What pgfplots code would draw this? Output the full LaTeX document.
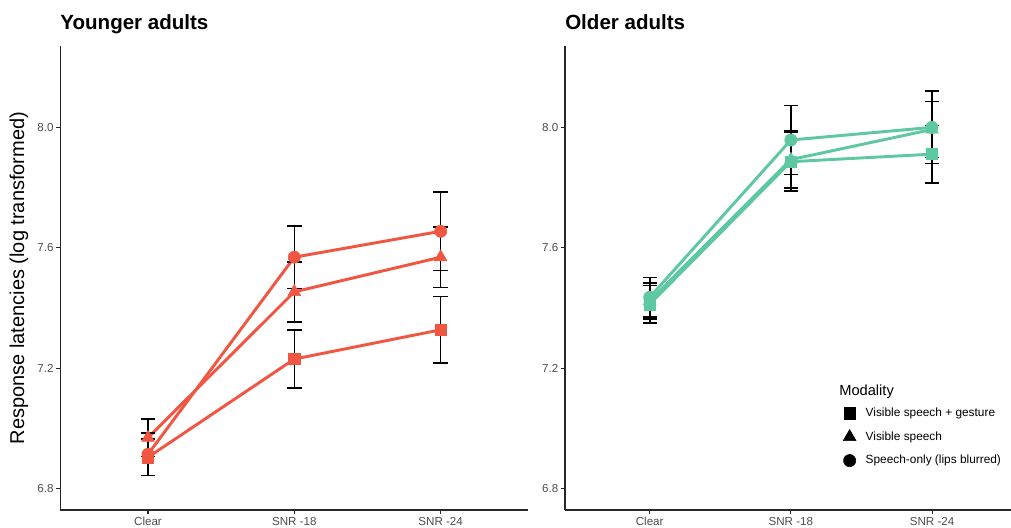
\documentclass[border=0pt]{standalone}
\usepackage{fontspec}
\setmainfont{Liberation Sans}
\usepackage{pgfplots}
\pgfplotsset{compat=1.18}
\usepackage{pgfplotstable}

\definecolor{youngred}{RGB}{240,86,66}
\definecolor{oldgreen}{RGB}{94,200,160}
\definecolor{tickgray}{RGB}{77,77,77}
\definecolor{axisgray}{RGB}{40,40,40}

% Younger adults
\pgfplotstableread{
x y e
1 6.905 0.060
2 7.231 0.097
3 7.328 0.110
}\YSq
\pgfplotstableread{
x y e
1 6.970 0.062
2 7.454 0.100
3 7.569 0.101
}\YTri
\pgfplotstableread{
x y e
1 6.915 0.070
2 7.569 0.104
3 7.655 0.130
}\YCir
% Older adults
\pgfplotstableread{
x y e
1 7.413 0.062
2 7.886 0.098
3 7.911 0.095
}\OSq
\pgfplotstableread{
x y e
1 7.424 0.060
2 7.893 0.095
3 7.993 0.093
}\OTri
\pgfplotstableread{
x y e
1 7.436 0.065
2 7.958 0.115
3 8.000 0.120
}\OCir

\pgfplotsset{
  panel/.style={
    scale only axis,
    height=348pt,
    xmin=0.4, xmax=3.6, ymin=6.73, ymax=8.27,
    axis x line*=bottom, axis y line*=left,
    axis line style={-, line width=0.8pt, color=axisgray},
    xtick={1,2,3}, xticklabels={Clear, SNR -18, SNR -24},
    ytick={6.8,7.2,7.6,8.0},
    tick align=outside, major tick length=3pt,
    tick style={line width=0.8pt, color=axisgray},
    ticklabel style={font=\fontsize{8.7}{10}\selectfont, color=tickgray},
    xticklabel style={yshift=1pt},
    yticklabel style={xshift=1.5pt, /pgf/number format/.cd, fixed, fixed zerofill, precision=1},
    /pgf/number format/assume math mode=true,
    title style={at={(axis description cs:0,1)}, anchor=base west, yshift=6pt,
                 inner sep=0pt, font=\bfseries\fontsize{15.4}{18}\selectfont},
    clip=false,
  },
  ebar/.style={draw=none, mark=none, forget plot,
    error bars/.cd, y dir=both, y explicit,
    error bar style={draw=black, line width=1.2pt},
    error mark options={draw=black, line width=1.2pt, mark size=5.4pt, rotate=90}},
  ln/.style={mark=none, line width=2.2pt, forget plot},
}

\begin{document}
\begin{tikzpicture}
\useasboundingbox (0,0) rectangle (758.25pt,396pt);

\begin{axis}[panel, at={(45.15pt,13.5pt)}, anchor=south west, width=351.2pt,
  title={Younger adults},
  ylabel={Response latencies (log transformed)},
  ylabel style={at={(axis description cs:-0.088,0.5)}, anchor=center,
                font=\fontsize{15}{18}\selectfont},
]
\addplot[ln, youngred] table[x=x,y=y]{\YSq};
\addplot[ln, youngred] table[x=x,y=y]{\YTri};
\addplot[ln, youngred] table[x=x,y=y]{\YCir};
\addplot[ebar] table[x=x,y=y,y error=e]{\YSq};
\addplot[ebar] table[x=x,y=y,y error=e]{\YTri};
\addplot[ebar] table[x=x,y=y,y error=e]{\YCir};
\addplot[only marks, forget plot, mark=square*, mark size=4.2pt, youngred] table[x=x,y=y]{\YSq};
\addplot[only marks, forget plot, mark=triangle*, mark size=5.5pt, youngred] table[x=x,y=y]{\YTri};
\addplot[only marks, forget plot, mark=*, mark size=4.6pt, youngred] table[x=x,y=y]{\YCir};
\end{axis}

\begin{axis}[panel, at={(423.75pt,13.5pt)}, anchor=south west, width=338.8pt,
  title={Older adults},
  legend style={at={(axis description cs:0.6066,0.232)}, anchor=north west,
    draw=none, fill=none, font=\fontsize{8.9}{10}\selectfont,
    legend cell align=left, row sep=5.8pt, column sep=5.3pt},
]
\addplot[ln, oldgreen] table[x=x,y=y]{\OSq};
\addplot[ln, oldgreen] table[x=x,y=y]{\OTri};
\addplot[ln, oldgreen] table[x=x,y=y]{\OCir};
\addplot[ebar] table[x=x,y=y,y error=e]{\OSq};
\addplot[ebar] table[x=x,y=y,y error=e]{\OTri};
\addplot[ebar] table[x=x,y=y,y error=e]{\OCir};
\addplot[only marks, forget plot, mark=square*, mark size=4.2pt, oldgreen] table[x=x,y=y]{\OSq};
\addplot[only marks, forget plot, mark=triangle*, mark size=5.5pt, oldgreen] table[x=x,y=y]{\OTri};
\addplot[only marks, forget plot, mark=*, mark size=4.6pt, oldgreen] table[x=x,y=y]{\OCir};
\addlegendimage{only marks, mark=square*, mark size=4.2pt, black}
\addlegendentry{Visible speech + gesture}
\addlegendimage{only marks, mark=triangle*, mark size=5.5pt, black}
\addlegendentry{Visible speech}
\addlegendimage{only marks, mark=*, mark size=4.6pt, black}
\addlegendentry{Speech-only (lips blurred)}
\node[anchor=base west, inner sep=0pt, font=\fontsize{11}{13}\selectfont] at (axis description cs:0.6066,0.2457) {Modality};
\end{axis}
\end{tikzpicture}
\end{document}
